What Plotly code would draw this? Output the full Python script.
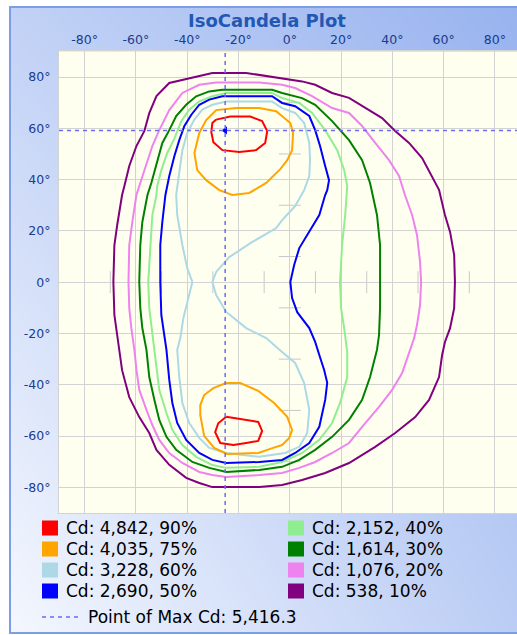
import plotly.graph_objects as go

W, H = 517, 635

# ---------------- data ----------------
levels_pct = [90, 75, 60, 50, 40, 30, 20, 10]
levels_cd = [4842, 4035, 3228, 2690, 2152, 1614, 1076, 538]
level_colors = ["#ff0000", "#ffa500", "#add8e6", "#0000ff",
                "#90ee90", "#008000", "#ee82ee", "#800080"]

max_cd = 5416.3
max_h = -25.2
max_v = 59.2

axis_ticks = [-80, -60, -40, -20, 0, 20, 40, 60, 80]
axis_tick_labels = ["-80°", "-60°", "-40°", "-20°", "0°", "20°", "40°", "60°", "80°"]
minor_ticks = [-70, -50, -30, -10, 10, 30, 50, 70]

# contour polylines, horizontal / vertical angle in degrees
red_top_x = [-28.7, -23.2, -15.4, -10.8, -8.8, -9.6, -13.1, -19.7, -26.3, -29.8, -30.6, -30.2]
red_top_y = [63.4, 64.6, 64.6, 62.8, 58.9, 54.3, 51.5, 50.8, 51.5, 54.6, 58.5, 62.1]
red_bot_x = [-24.8, -22.0, -17.0, -12.3, -10.8, -12.3, -17.0, -22.0, -27.1, -29.1, -27.9]
red_bot_y = [-52.5, -52.9, -53.7, -54.5, -58.0, -61.9, -62.7, -63.5, -62.7, -58.5, -55.0]

orange_top_x = [-20.9, -11.9, -5.3, -2.6, 0.2, 1.3, 0.9, -1.0, -3.7, -9.2, -15.8, -22.4,
                -27.5, -32.6, -36.1, -37.2, -35.3, -32.6, -28.7]
orange_top_y = [67.9, 67.9, 66.7, 64.3, 62.1, 58.2, 51.5, 47.6, 44.1, 38.7, 34.8, 34.0,
                35.9, 39.8, 43.7, 50.4, 58.2, 63.2, 67.1]
orange_bot_x = [-24.8, -19.3, -12.3, -6.1, -1.0, 0.9, -0.2, -3.0, -6.5, -12.3, -24.4,
                -29.5, -33.4, -34.9, -34.9, -33.4, -29.8]
orange_bot_y = [-39.3, -39.3, -42.4, -47.1, -52.5, -57.6, -60.7, -63.5, -64.6, -66.6, -67.0,
                -64.6, -59.9, -51.8, -47.9, -44.0, -41.3]

lightblue_x = [-38.0, -40.0, -41.9, -43.9, -44.3, -43.1, -41.9, -40.0, -37.2, -34.1, -30.2,
               -24.8, -6.9, -3.0, 2.1, 5.6, 7.6, 7.9, 7.6, 5.6, 2.1, -3.0, -5.3, -14.6,
               -23.6, -28.7, -30.2, -28.7, -24.8, -17.0, -9.2, -3.0, 2.1, 5.6, 7.6, 6.8,
               3.7, -1.8, -11.9, -24.8, -31.4, -35.3, -39.2, -41.9, -43.1, -43.9, -42.7,
               -41.5, -39.6]
lightblue_y = [0.1, 5.5, 14.5, 26.2, 34.0, 43.7, 51.5, 58.2, 63.4, 67.3, 69.2,
               70.5, 70.5, 67.9, 66.0, 62.1, 54.3, 47.6, 41.4, 35.9, 29.7, 24.2, 21.1, 15.7,
               9.8, 4.0, 0.1, -5.0, -11.6, -17.9, -21.8, -27.2, -31.5, -39.3, -49.8, -58.8,
               -64.2, -66.6, -68.1, -66.6, -64.6, -60.7, -54.9, -47.1, -37.0, -26.4, -21.8,
               -14.0, -6.2]

blue_x = [-50.5, -50.5, -49.7, -48.5, -47.0, -45.0, -43.1, -41.1, -38.4, -35.3, -31.4,
          -26.3, -6.9, -3.0, 2.1, 7.6, 9.9, 11.8, 13.8, 15.3, 14.6, 13.8, 11.5, 7.6, 3.7,
          1.7, 0.2, 0.9, 2.9, 7.6, 9.9, 11.5, 13.4, 14.6, 13.8, 11.5, 7.6, 2.1, -3.0,
          -11.9, -24.8, -30.2, -35.3, -40.4, -43.9, -45.8, -47.0, -48.1, -48.9, -50.1]
blue_y = [0.1, 14.5, 23.5, 34.0, 41.4, 49.2, 55.4, 60.9, 65.3, 69.2, 71.2,
          72.5, 72.5, 69.9, 68.6, 64.8, 59.3, 53.1, 45.3, 39.8, 35.9, 34.0, 26.2, 19.6, 13.3,
          6.7, 0.1, -6.2, -11.7, -17.9, -23.3, -28.4, -34.2, -39.2, -45.9, -56.4, -62.7,
          -66.6, -69.3, -70.1, -70.5, -69.3, -66.6, -61.5, -54.9, -47.1, -38.1, -26.4,
          -20.6, -12.8]

lightgreen_x = [-55.2, -54.4, -53.6, -52.0, -51.7, -50.1, -47.8, -45.0, -42.3, -39.2, -35.3,
                -30.2, -24.8, -6.9, -3.0, 3.7, 8.7, 13.8, 18.5, 21.2, 22.4, 21.6, 20.4,
                19.6, 20.0, 21.2, 22.4, 22.4, 19.6, 16.5, 11.5, 4.8, -3.0, -11.9, -24.8,
                -30.2, -36.5, -41.9, -45.8, -48.1, -50.9, -52.0, -52.8, -53.6, -54.8]
lightgreen_y = [0.1, 14.5, 26.2, 34.0, 37.5, 43.7, 50.4, 56.0, 62.8, 67.3, 70.5,
                72.5, 73.8, 73.8, 71.8, 69.9, 66.0, 59.3, 51.5, 43.7, 37.5, 26.2, 14.5,
                0.1, -10.1, -17.9, -27.2, -37.0, -47.1, -54.9, -61.5, -66.6, -70.1, -72.0,
                -72.4, -71.3, -68.1, -63.5, -57.6, -51.0, -42.0, -33.1, -26.4, -20.6, -10.1]

green_x = [-58.7, -58.3, -57.5, -55.5, -54.0, -52.0, -49.7, -47.0, -44.3, -40.4, -36.5,
           -31.4, -26.3, -6.9, -3.0, 4.8, 9.9, 16.5, 23.1, 28.2, 31.3, 34.0, 35.2, 35.2,
           35.2, 34.8, 34.0, 31.3, 28.2, 23.1, 16.5, 9.9, 3.7, -3.0, -11.9, -24.8, -31.4,
           -38.0, -44.3, -48.1, -50.9, -52.8, -54.8, -55.9, -57.5, -58.3]
green_y = [0.1, 14.5, 23.5, 34.0, 38.7, 46.5, 54.3, 59.3, 64.8, 69.2, 72.5,
           74.4, 75.0, 75.0, 73.8, 71.8, 69.2, 62.8, 55.4, 47.6, 38.7, 26.2, 14.5, 0.1,
           -10.1, -20.6, -26.4, -37.0, -45.9, -53.7, -60.3, -65.4, -69.3, -72.0, -73.2,
           -74.0, -72.4, -70.1, -65.4, -60.3, -53.7, -45.9, -37.0, -26.4, -17.9, -10.1]

violet_x = [-62.9, -62.6, -61.4, -59.8, -58.7, -56.7, -53.6, -50.9, -47.0, -41.9, -35.3,
            -28.7, -11.9, -3.0, 2.1, 8.7, 16.5, 23.1, 28.2, 33.3, 38.7, 42.6, 44.9, 47.7,
            49.6, 50.8, 51.2, 50.8, 49.6, 48.5, 46.9, 43.8, 39.9, 34.8, 28.2, 23.1, 16.5,
            9.9, 3.7, -3.0, -11.9, -24.8, -30.2, -35.3, -41.9, -47.0, -50.9, -53.6, -55.9,
            -58.7, -59.8, -60.6, -61.8, -62.6]
violet_y = [0.1, 14.5, 23.5, 34.0, 37.5, 43.7, 53.1, 59.3, 67.1, 73.8, 77.0,
            77.9, 77.9, 77.0, 75.7, 72.6, 67.9, 66.0, 60.9, 54.3, 47.6, 41.4, 34.0, 26.2,
            18.4, 7.9, 0.1, -8.9, -16.7, -21.8, -26.4, -35.4, -42.0, -48.6, -56.4, -62.7,
            -66.6, -70.1, -72.4, -74.4, -75.2, -76.0, -75.2, -74.0, -70.5, -66.6, -61.5,
            -55.7, -49.8, -42.0, -34.2, -26.4, -17.9, -10.1]

purple_x = [-68.8, -68.4, -67.3, -65.4, -64.5, -62.6, -59.8, -56.7, -54.8, -52.0, -47.0,
            -30.2, -17.0, -3.0, 4.8, 9.9, 16.5, 23.1, 29.4, 36.0, 41.1, 46.5, 51.6, 55.5,
            58.2, 60.5, 62.5, 64.1, 64.4, 64.1, 62.5, 60.5, 59.4, 58.2, 54.3, 48.9, 41.1,
            33.3, 23.1, 13.8, 4.8, -3.0, -11.9, -30.2, -35.3, -40.4, -47.0, -52.0, -54.8,
            -58.7, -62.6, -65.4, -66.5, -67.3, -68.4]
purple_y = [0.1, 14.5, 22.3, 34.0, 37.5, 45.3, 53.1, 59.0, 65.9, 72.6, 77.7,
            81.6, 81.6, 79.6, 78.3, 77.0, 73.8, 71.9, 68.0, 64.0, 59.0, 54.3, 48.4, 41.4,
            36.0, 26.2, 19.6, 10.6, 0.1, -10.1, -17.9, -23.3, -28.4, -37.0, -45.9, -52.6,
            -58.8, -64.2, -70.5, -74.4, -77.1, -79.1, -79.9, -79.9, -78.3, -76.3, -71.2,
            -65.4, -58.8, -52.6, -44.8, -34.3, -26.4, -20.6, -12.8]

contours = {
    90: [(red_top_x, red_top_y), (red_bot_x, red_bot_y)],
    75: [(orange_top_x, orange_top_y), (orange_bot_x, orange_bot_y)],
    60: [(lightblue_x, lightblue_y)],
    50: [(blue_x, blue_y)],
    40: [(lightgreen_x, lightgreen_y)],
    30: [(green_x, green_y)],
    20: [(violet_x, violet_y)],
    10: [(purple_x, purple_y)],
}

# ---------------- figure ----------------
fig = go.Figure()

# panel gradient background (full paper subplot)
fig.add_trace(go.Heatmap(
    z=[[0.0, 0.62], [0.55, 1.0]], x=[0, 1], y=[0, 1], zsmooth="best",
    colorscale=[[0, "#f4f7fe"], [1, "#98b3ef"]], showscale=False,
    hoverinfo="skip", xaxis="x", yaxis="y"))

# contours (largest first so inner lines sit on top)
for pct, color in reversed(list(zip(levels_pct, level_colors))):
    for xs, ys in contours[pct]:
        fig.add_trace(go.Scatter(
            x=list(xs) + [xs[0]], y=list(ys) + [ys[0]], mode="lines",
            line=dict(color=color, width=2), hoverinfo="skip",
            xaxis="x2", yaxis="y2", showlegend=False))

# max point marker
fig.add_trace(go.Scatter(
    x=[max_h], y=[max_v], mode="markers",
    marker=dict(symbol="triangle-left", size=7, color="#0000ff"),
    xaxis="x2", yaxis="y2", showlegend=False, hoverinfo="skip"))

shapes = []
tick_col = "#c8c8c8"
for t in minor_ticks:
    shapes.append(dict(type="line", xref="x2", yref="y2", x0=t, x1=t, y0=-4.3, y1=4.3,
                       line=dict(color=tick_col, width=1), layer="below"))
    shapes.append(dict(type="line", xref="x2", yref="y2", x0=-4.3, x1=4.3, y0=t, y1=t,
                       line=dict(color=tick_col, width=1), layer="below"))

dash_col = "#6b6bf2"
shapes.append(dict(type="line", xref="x2", yref="y2 domain", x0=max_h, x1=max_h, y0=0, y1=1,
                   line=dict(color=dash_col, width=1.5, dash="4px,4px"), layer="above"))
shapes.append(dict(type="line", xref="x2 domain", yref="y2", x0=0, x1=1, y0=max_v, y1=max_v,
                   line=dict(color=dash_col, width=1.5, dash="4px,4px"), layer="above"))

# panel border
shapes.append(dict(type="rect", xref="paper", yref="paper", x0=10 / W, x1=1.02,
                   y0=2 / H, y1=628 / H, line=dict(color="#7d9de6", width=2),
                   fillcolor="rgba(0,0,0,0)", layer="above"))

annotations = []
# title
annotations.append(dict(text="<b>IsoCandela Plot</b>", xref="paper", yref="paper",
                        x=267 / W, y=1 - 21 / H, xanchor="center", yanchor="middle",
                        showarrow=False,
                        font=dict(family="DejaVu Sans", size=18, color="#2257b4")))

# legend
leg_font = dict(family="DejaVu Sans", size=17, color="#000000")
row_y = [528, 549, 570, 591]
col_sq = [42, 288]
for i, (pct, cd, color) in enumerate(zip(levels_pct, levels_cd, level_colors)):
    col = i // 4
    row = i % 4
    sx = col_sq[col]
    cy = row_y[row]
    shapes.append(dict(type="rect", xref="paper", yref="paper",
                       x0=sx / W, x1=(sx + 16) / W, y0=1 - (cy + 7.5) / H, y1=1 - (cy - 7.5) / H,
                       fillcolor=color, line=dict(width=0), layer="above"))
    annotations.append(dict(text=f"Cd: {cd:,}, {pct}%", xref="paper", yref="paper",
                            x=(sx + 22) / W, y=1 - cy / H, xanchor="left", yanchor="middle",
                            showarrow=False, font=leg_font))
shapes.append(dict(type="line", xref="paper", yref="paper", x0=42 / W, x1=80 / W,
                   y0=1 - 617 / H, y1=1 - 617 / H,
                   line=dict(color=dash_col, width=1.5, dash="4px,4px"), layer="above"))
annotations.append(dict(text=f"Point of Max Cd: {max_cd:,.1f}", xref="paper", yref="paper",
                        x=86 / W, y=1 - 617 / H, xanchor="left", yanchor="middle",
                        showarrow=False, font=leg_font))

tickfont = dict(family="DejaVu Sans", size=12.5, color="#1a3c8e")
grid_col = "#d3d3d3"
fig.update_layout(
    width=W, height=H, margin=dict(l=0, r=0, t=0, b=0),
    paper_bgcolor="white", plot_bgcolor="#fffff0", showlegend=False,
    xaxis=dict(domain=[10 / W, 1], range=[0, 1], visible=False, fixedrange=True),
    yaxis=dict(domain=[2 / H, 628 / H], range=[0, 1], visible=False, fixedrange=True),
    xaxis2=dict(domain=[59 / W, 1], range=[-90, 88.6], anchor="y2", side="top",
                tickmode="array", tickvals=axis_ticks, ticktext=axis_tick_labels,
                showgrid=True, gridcolor=grid_col, gridwidth=1, zeroline=False,
                showline=True, linecolor=grid_col, linewidth=1, mirror=True,
                ticks="", tickfont=tickfont, ticklabelstandoff=1),
    yaxis2=dict(domain=[122 / H, 583.6 / H], range=[-90, 90], anchor="x2",
                tickmode="array", tickvals=axis_ticks, ticktext=axis_tick_labels,
                showgrid=True, gridcolor=grid_col, gridwidth=1, zeroline=False,
                showline=True, linecolor=grid_col, linewidth=1, mirror=True,
                ticks="", tickfont=tickfont, ticklabelstandoff=5),
    shapes=shapes, annotations=annotations,
)

fig.write_html("out.html", config={"displayModeBar": False},
               post_script="document.body.style.margin='0';")
